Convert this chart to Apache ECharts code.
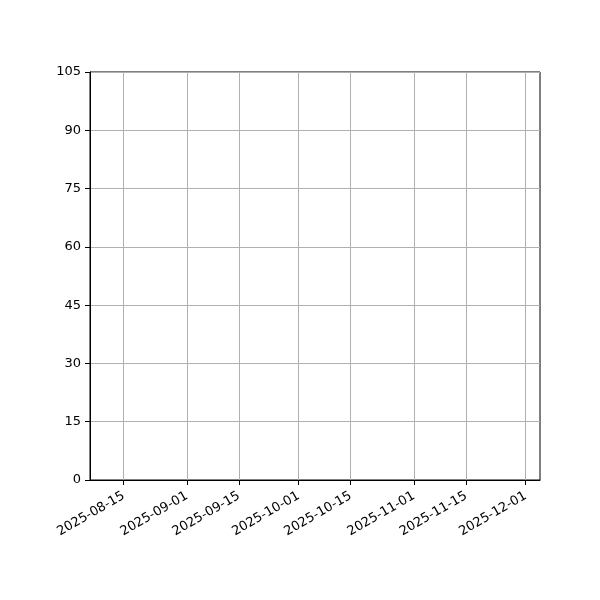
<!DOCTYPE html>
<html>
<head>
<meta charset="utf-8">
<script src="https://cdn.jsdelivr.net/npm/echarts@6/dist/echarts.min.js"></script>
<style>html,body{margin:0;padding:0;background:#fff}#c{width:600px;height:600px}</style>
</head>
<body>
<div id="c"></div>
<script>
// Tick dates on the x axis (semi-monthly)
var xTickDates = ['2025-08-15','2025-09-01','2025-09-15','2025-10-01','2025-10-15','2025-11-01','2025-11-15','2025-12-01'];
// Y tick labels
var yTicks = [0, 15, 30, 45, 60, 75, 90, 105];
// Series data: the chart is empty (no visible values)
var seriesDates = ['2025-08-15','2025-12-01'];
var seriesValues = [null, null];

function parseLocal(s) {
  var p = s.split('-');
  return new Date(+p[0], +p[1] - 1, +p[2]).getTime();
}
function fmt(ts) {
  var d = new Date(Math.round(ts));
  var m = d.getMonth() + 1, dd = d.getDate();
  return d.getFullYear() + '-' + (m < 10 ? '0' : '') + m + '-' + (dd < 10 ? '0' : '') + dd;
}
var DAY = 86400000;
var xMin = parseLocal('2025-08-06') - 0.05 * DAY;
var xMax = parseLocal('2025-12-04') + 0.85 * DAY;
var tickTs = xTickDates.map(parseLocal);

var chart = echarts.init(document.getElementById('c'), null, {renderer: 'canvas'});
chart.setOption({
  animation: false,
  backgroundColor: '#fff',
  textStyle: {fontFamily: 'DejaVu Sans'},
  grid: {left: 90, right: 60, top: 72, bottom: 120, show: true, borderColor: '#000', borderWidth: 1, backgroundColor: 'transparent'},
  xAxis: {
    type: 'value',
    min: xMin,
    max: xMax,
    axisLine: {show: true, onZero: false, lineStyle: {color: '#000', width: 1}},
    axisTick: {show: true, inside: false, length: 5, lineStyle: {color: '#000', width: 1}, customValues: tickTs},
    axisLabel: {show: true, customValues: tickTs, rotate: 30, margin: 15, color: '#000', fontSize: 13, fontFamily: 'DejaVu Sans', formatter: function (v) { return fmt(v); }},
    splitLine: {show: false}
  },
  yAxis: {
    type: 'value',
    min: 0,
    max: 105,
    interval: 15,
    axisLine: {show: true, lineStyle: {color: '#000', width: 1}},
    axisTick: {show: true, inside: false, length: 5, lineStyle: {color: '#000', width: 1}},
    axisLabel: {color: '#000', fontSize: 13, margin: 9, fontFamily: 'DejaVu Sans', formatter: function (v) { return yTicks.indexOf(v) >= 0 ? String(v) : ''; }},
    splitLine: {show: true, lineStyle: {color: '#b0b0b0', width: 1}}
  },
  series: [{
    type: 'line',
    data: seriesDates.map(function (d, i) { return [parseLocal(d), seriesValues[i]]; }),
    symbol: 'none',
    lineStyle: {color: '#1f77b4'},
    markLine: {
      silent: true,
      symbol: 'none',
      label: {show: false},
      lineStyle: {color: '#b0b0b0', width: 1, type: 'solid'},
      data: tickTs.map(function (t) { return {xAxis: t}; })
    }
  }]
});
</script>
</body>
</html>
